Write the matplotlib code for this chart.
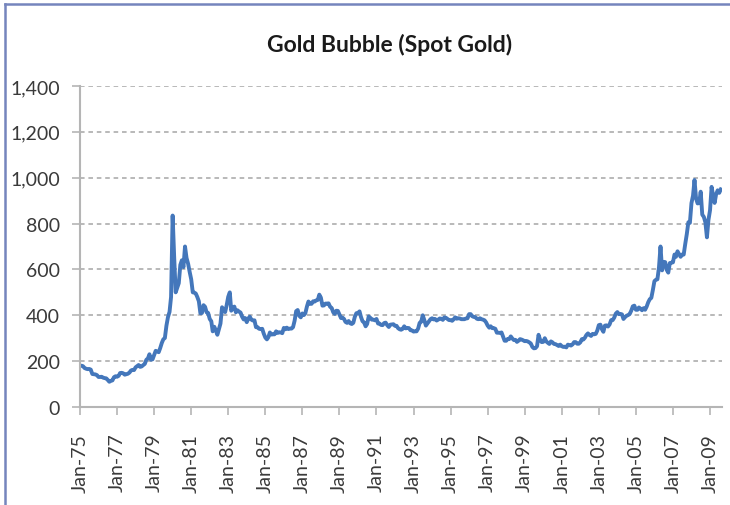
import numpy as np
import matplotlib
matplotlib.use('Agg')
import matplotlib.pyplot as plt
from matplotlib.ticker import FuncFormatter
from matplotlib.lines import Line2D

plt.rcParams['font.family'] = ['Lato', 'DejaVu Sans']

# monthly spot gold (USD/oz), Jan-1975 .. Aug-2009
gold = {
    1975: [180, 180, 178, 170, 167, 165, 166, 163, 144, 143, 142, 139],
    1976: [131, 131, 132, 128, 126, 125, 118, 110, 114, 116, 130, 134],
    1977: [132, 136, 148, 149, 147, 141, 143, 145, 150, 159, 162, 161],
    1978: [173, 178, 183, 175, 177, 183, 188, 206, 212, 230, 206, 208],
    1979: [227, 245, 242, 239, 257, 279, 295, 301, 355, 392, 415, 480],
    1980: [835, 650, 500, 520, 540, 620, 640, 610, 700, 650, 625, 590],
    1981: [557, 500, 499, 495, 480, 461, 409, 410, 444, 437, 413, 410],
    1982: [384, 374, 330, 350, 334, 315, 339, 364, 435, 422, 414, 444],
    1983: [481, 500, 420, 432, 438, 413, 422, 416, 412, 394, 382, 388],
    1984: [370, 386, 394, 381, 377, 378, 348, 348, 341, 340, 341, 320],
    1985: [303, 295, 304, 325, 316, 317, 317, 330, 323, 326, 325, 322],
    1986: [345, 339, 346, 340, 342, 342, 348, 376, 418, 423, 398, 391],
    1987: [408, 401, 409, 438, 460, 450, 450, 461, 460, 465, 467, 490],
    1988: [477, 442, 443, 451, 451, 452, 437, 432, 413, 406, 420, 419],
    1989: [404, 388, 390, 384, 371, 367, 375, 365, 362, 367, 394, 409],
    1990: [410, 417, 393, 374, 369, 352, 362, 395, 389, 381, 381, 378],
    1991: [384, 364, 364, 358, 357, 366, 368, 357, 349, 359, 360, 361],
    1992: [354, 354, 344, 339, 337, 341, 352, 343, 345, 344, 335, 334],
    1993: [329, 330, 330, 342, 367, 372, 400, 379, 355, 364, 374, 383],
    1994: [387, 382, 384, 377, 381, 386, 385, 380, 391, 389, 384, 379],
    1995: [379, 376, 382, 391, 385, 387, 386, 383, 383, 383, 386, 387],
    1996: [405, 405, 396, 393, 392, 385, 383, 387, 383, 381, 378, 369],
    1997: [355, 346, 352, 344, 344, 341, 324, 324, 323, 325, 306, 289],
    1998: [289, 297, 296, 308, 299, 292, 293, 284, 289, 296, 294, 291],
    1999: [287, 288, 286, 282, 277, 262, 256, 257, 265, 315, 293, 283],
    2000: [284, 300, 286, 280, 275, 286, 282, 275, 274, 270, 266, 272],
    2001: [265, 262, 263, 260, 272, 270, 268, 273, 283, 283, 276, 276],
    2002: [282, 296, 294, 302, 314, 321, 314, 310, 319, 317, 319, 333],
    2003: [357, 359, 340, 328, 355, 356, 351, 360, 379, 379, 390, 407],
    2004: [414, 405, 406, 404, 384, 392, 398, 401, 406, 420, 439, 442],
    2005: [424, 424, 434, 429, 422, 431, 424, 438, 457, 470, 476, 510],
    2006: [549, 555, 557, 610, 700, 596, 633, 632, 598, 586, 628, 629],
    2007: [631, 665, 655, 679, 667, 655, 665, 665, 712, 754, 806, 803],
    2008: [889, 922, 990, 909, 888, 889, 939, 839, 829, 806, 740, 816],
    2009: [858, 960, 924, 890, 928, 945, 934, 949],
}

tick_years = list(range(1975, 2010, 2))
tick_labels = ['Jan-%02d' % (y % 100) for y in tick_years]
title = 'Gold Bubble (Spot Gold)'

prices = np.concatenate([gold[y] for y in sorted(gold)])
dates = np.arange('1975-01', '2009-09', dtype='datetime64[M]').astype('datetime64[D]')
tick_dates = np.array(['%d-01-01' % y for y in tick_years], dtype='datetime64[D]')

fig = plt.figure(figsize=(7.3, 5.06), dpi=100)
ax = fig.add_axes([80 / 730, 98 / 506, 642 / 730, 321 / 506])

ax.plot(dates, prices, color='#4477bb', lw=2.8, solid_joinstyle='round')

ax.set_ylim(0, 1400)
ax.set_yticks(np.arange(0, 1401, 200))
ax.yaxis.set_major_formatter(FuncFormatter(lambda v, p: f'{int(v):,}'))
ax.set_xlim(np.datetime64('1975-01-01'), np.datetime64('2009-08-25'))
ax.set_xticks(tick_dates)
ax.set_xticklabels(tick_labels)

ax.grid(axis='y', color='#a6a6a6', linestyle=(0, (3, 2.5)), lw=1.1)
ax.set_axisbelow(True)
for s in ['top', 'right']:
    ax.spines[s].set_visible(False)
for s in ['left', 'bottom']:
    ax.spines[s].set_color('#b5b5b5')
    ax.spines[s].set_linewidth(1.5)

ax.tick_params(axis='both', colors='#b5b5b5', labelcolor='#3a3a3a', labelsize=14,
               length=5.5, width=1.2)
ax.tick_params(axis='y', pad=9)
ax.tick_params(axis='x', pad=13, labelrotation=90)

fig.text(0.534, 1 - 45 / 506, title, ha='center', va='center', fontsize=16.5,
         fontweight='bold', color='#1a1a1a')

# frame of the pasted chart
fig.add_artist(Line2D([5 / 730, 5 / 730], [0, 1 - 5 / 506], color='#7585bd', lw=1.8))
fig.add_artist(Line2D([5 / 730, 1], [1 - 5 / 506, 1 - 5 / 506], color='#7585bd', lw=1.8))

fig.savefig('out.png', dpi=100)
